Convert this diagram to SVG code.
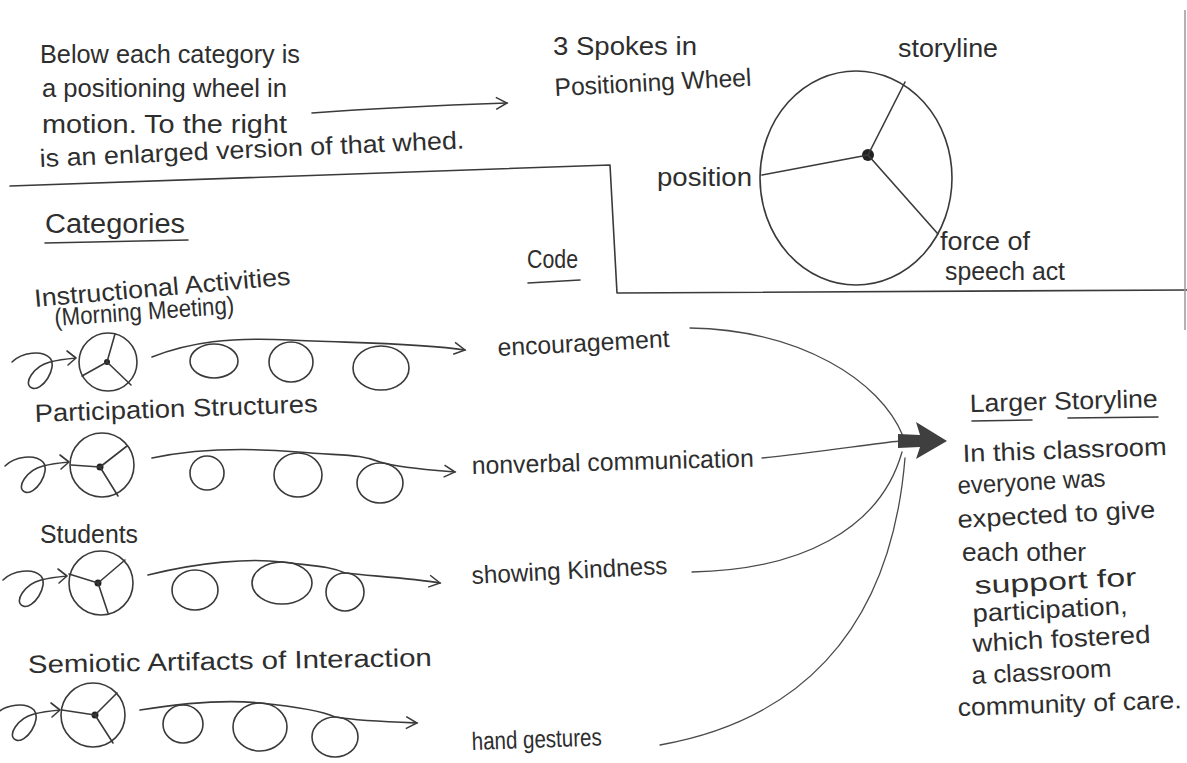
<svg xmlns="http://www.w3.org/2000/svg" width="1187" height="763" viewBox="0 0 1187 763">
<style>
text{font-family:"Liberation Sans","DejaVu Sans",sans-serif;font-size:25px;fill:#2e2e2e}
.ln{fill:none;stroke:#3a3a3a;stroke-width:1.6;stroke-linecap:round;stroke-linejoin:round}
.thin{fill:none;stroke:#4a4a4a;stroke-width:1.3;stroke-linecap:round}
.hub{fill:#222}
</style>
<defs>
<marker id="open" markerWidth="14" markerHeight="14" refX="12" refY="7" orient="auto" markerUnits="userSpaceOnUse">
<path d="M1,1 L12,7 L1,13" fill="none" stroke="#3a3a3a" stroke-width="1.5"/>
</marker>
<path id="curl" d="M0,0 C10,-10 30,-12 38,-4 C46,6 30,30 20,26 C10,22 22,4 38,0 C46,-2 54,-3 64,-4 M55,-11 L64,-4 L56,3" class="ln"/>
</defs>
<rect width="1187" height="763" fill="#fff"/>

<g id="frame">
<polyline class="ln" points="10,186 610,165 617,293 1187,290"/>
<line x1="1185" y1="10" x2="1185" y2="330" stroke="#999" stroke-width="1.5"/>
</g>

<g id="intro">
<text x="40" y="63" textLength="260" lengthAdjust="spacingAndGlyphs">Below each category is</text>
<text x="42" y="97" textLength="245" lengthAdjust="spacingAndGlyphs">a positioning wheel in</text>
<text x="42" y="133" textLength="245" lengthAdjust="spacingAndGlyphs">motion. To the right</text>
<text x="40" y="167" textLength="425" lengthAdjust="spacingAndGlyphs" transform="rotate(-2.5 40 167)">is an enlarged version of that whed.</text>
</g>

<g id="connectors">
<path class="ln" d="M312 113 C380 108 450 105 507 103" marker-end="url(#open)"/>
<path class="thin" d="M690 328 C800 330 880 380 903 436"/>
<path class="thin" d="M762 458 C820 452 870 444 900 441"/>
<path class="thin" d="M692 572 C800 570 880 530 902 452"/>
<path class="thin" d="M660 745 C790 722 890 640 905 458"/>
<polygon points="916,422 947,441 916,459 920,447 898,448 898,434 920,435" fill="#3f3f3f"/>
</g>

<g id="wheel-large">
<text x="553" y="55" textLength="144" lengthAdjust="spacingAndGlyphs">3 Spokes in</text>
<text x="555" y="96" textLength="197" lengthAdjust="spacingAndGlyphs" transform="rotate(-3 555 96)">Positioning Wheel</text>
<ellipse cx="856" cy="178" rx="96" ry="107" class="ln"/>
<circle cx="868" cy="155" r="6" class="hub"/>
<line class="ln" x1="868" y1="155" x2="905" y2="82"/>
<line class="ln" x1="868" y1="155" x2="762" y2="175"/>
<line class="ln" x1="868" y1="155" x2="938" y2="234"/>
<text x="898" y="57" textLength="100" lengthAdjust="spacingAndGlyphs">storyline</text>
<text x="657" y="186" textLength="95" lengthAdjust="spacingAndGlyphs">position</text>
<text x="940" y="250" textLength="90" lengthAdjust="spacingAndGlyphs">force of</text>
<text x="945" y="280" textLength="120" lengthAdjust="spacingAndGlyphs">speech act</text>
</g>

<g id="headers">
<text x="45" y="233" textLength="140" lengthAdjust="spacingAndGlyphs" style="font-size:27px">Categories</text>
<line class="ln" x1="45" y1="243" x2="188" y2="240"/>
<text x="527" y="268" textLength="51" lengthAdjust="spacingAndGlyphs">Code</text>
<line class="ln" x1="528" y1="283" x2="580" y2="280"/>
</g>

<g id="row-instructional">
<text x="35" y="307" textLength="257" lengthAdjust="spacingAndGlyphs" transform="rotate(-5 35 307)">Instructional Activities</text>
<text x="55" y="326" textLength="180" lengthAdjust="spacingAndGlyphs" transform="rotate(-4 55 326)">(Morning Meeting)</text>
<use href="#curl" x="12" y="362"/>
<circle cx="108" cy="362" r="29" class="ln"/>
<circle cx="107" cy="362" r="3" class="hub"/>
<line class="ln" x1="107" y1="362" x2="115" y2="334"/>
<line class="ln" x1="107" y1="362" x2="82" y2="376"/>
<line class="ln" x1="107" y1="362" x2="131" y2="385"/>
<path class="ln" d="M152 357 C190 342 230 337 290 340 S420 343 465 350" marker-end="url(#open)"/>
<ellipse cx="214" cy="361" rx="24" ry="17" class="ln"/>
<ellipse cx="291" cy="362" rx="22" ry="20" class="ln"/>
<ellipse cx="381" cy="368" rx="28" ry="22" class="ln"/>
<text x="498" y="356" textLength="172" lengthAdjust="spacingAndGlyphs" transform="rotate(-3 498 356)">encouragement</text>
</g>

<g id="row-participation">
<text x="35" y="422" textLength="283" lengthAdjust="spacingAndGlyphs" transform="rotate(-2 35 422)">Participation Structures</text>
<use href="#curl" x="5" y="466"/>
<circle cx="102" cy="465" r="32" class="ln"/>
<circle cx="100" cy="467" r="3.5" class="hub"/>
<line class="ln" x1="100" y1="467" x2="71" y2="465"/>
<line class="ln" x1="100" y1="467" x2="127" y2="446"/>
<line class="ln" x1="100" y1="467" x2="118" y2="496"/>
<path class="ln" d="M152 458 C200 448 250 448 298 452 S360 454 380 462 C400 468 430 470 455 472" marker-end="url(#open)"/>
<ellipse cx="207" cy="473" rx="17" ry="17" class="ln"/>
<ellipse cx="298" cy="475" rx="24" ry="22" class="ln"/>
<ellipse cx="380" cy="483" rx="23" ry="20" class="ln"/>
<text x="472" y="474" textLength="282" lengthAdjust="spacingAndGlyphs" transform="rotate(-1.5 472 474)">nonverbal communication</text>
</g>

<g id="row-students">
<text x="40" y="543" textLength="98" lengthAdjust="spacingAndGlyphs">Students</text>
<use href="#curl" x="3" y="580"/>
<circle cx="101" cy="583" r="32" class="ln"/>
<circle cx="98" cy="583" r="3.5" class="hub"/>
<line class="ln" x1="98" y1="583" x2="69" y2="574"/>
<line class="ln" x1="98" y1="583" x2="125" y2="560"/>
<line class="ln" x1="98" y1="583" x2="108" y2="613"/>
<path class="ln" d="M148 575 C200 562 250 558 282 562 S330 566 345 573 C370 576 410 578 440 583" marker-end="url(#open)"/>
<ellipse cx="195" cy="590" rx="23" ry="20" class="ln"/>
<ellipse cx="282" cy="583" rx="30" ry="21" class="ln"/>
<ellipse cx="345" cy="592" rx="19" ry="19" class="ln"/>
<text x="472" y="584" textLength="196" lengthAdjust="spacingAndGlyphs" transform="rotate(-3 472 584)">showing Kindness</text>
</g>

<g id="row-semiotic">
<text x="28" y="673" textLength="404" lengthAdjust="spacingAndGlyphs" transform="rotate(-1 28 673)">Semiotic Artifacts of Interaction</text>
<use href="#curl" x="-4" y="714"/>
<circle cx="93" cy="715" r="32" class="ln"/>
<circle cx="95" cy="715" r="3.5" class="hub"/>
<line class="ln" x1="95" y1="715" x2="62" y2="710"/>
<line class="ln" x1="95" y1="715" x2="117" y2="693"/>
<line class="ln" x1="95" y1="715" x2="113" y2="743"/>
<path class="ln" d="M140 710 C190 702 230 700 260 703 S320 710 335 717 C360 721 390 722 417 723" marker-end="url(#open)"/>
<ellipse cx="183" cy="724" rx="20" ry="19" class="ln"/>
<ellipse cx="260" cy="727" rx="27" ry="24" class="ln"/>
<ellipse cx="335" cy="737" rx="23" ry="20" class="ln"/>
<text x="472" y="750" textLength="130" lengthAdjust="spacingAndGlyphs" transform="rotate(-2 472 750)">hand gestures</text>
</g>

<g id="larger-storyline">
<text x="970" y="412" textLength="188" lengthAdjust="spacingAndGlyphs" transform="rotate(-1.5 970 412)">Larger Storyline</text>
<line class="ln" x1="972" y1="421" x2="1032" y2="420"/>
<line class="ln" x1="1068" y1="418" x2="1158" y2="417"/>
<text x="963" y="462" textLength="204" lengthAdjust="spacingAndGlyphs" transform="rotate(-2 963 462)">In this classroom</text>
<text x="958" y="494" textLength="148" lengthAdjust="spacingAndGlyphs" transform="rotate(-3 958 494)">everyone was</text>
<text x="958" y="528" textLength="198" lengthAdjust="spacingAndGlyphs" transform="rotate(-3 958 528)">expected to give</text>
<text x="962" y="561" textLength="124" lengthAdjust="spacingAndGlyphs">each other</text>
<text x="975" y="594" textLength="162" lengthAdjust="spacingAndGlyphs" transform="rotate(-3 975 594)">support for</text>
<text x="973" y="622" textLength="155" lengthAdjust="spacingAndGlyphs" transform="rotate(-3 973 622)">participation,</text>
<text x="973" y="652" textLength="178" lengthAdjust="spacingAndGlyphs" transform="rotate(-3 973 652)">which fostered</text>
<text x="972" y="684" textLength="140" lengthAdjust="spacingAndGlyphs" transform="rotate(-3 972 684)">a classroom</text>
<text x="958" y="716" textLength="224" lengthAdjust="spacingAndGlyphs" transform="rotate(-2 958 716)">community of care.</text>
</g>
</svg>
